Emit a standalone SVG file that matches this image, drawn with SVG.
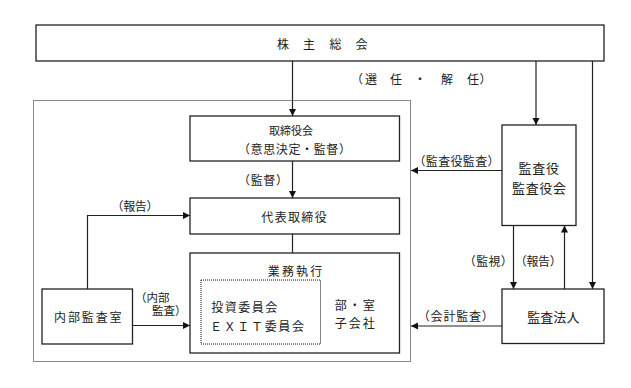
<svg xmlns="http://www.w3.org/2000/svg" width="631" height="388" viewBox="0 0 631 388">
<defs>
<style>
.box{fill:#fff;stroke:#222;stroke-width:1.3}
.dot{fill:none;stroke:#111;stroke-width:1;stroke-dasharray:1 1}
.ln{fill:none;stroke:#222;stroke-width:1.2}
.arr{marker-end:url(#ah)}
text{font-family:"Noto Sans CJK JP","Noto Sans CJK SC",sans-serif;font-size:12px;fill:#222;dominant-baseline:central}
.m{text-anchor:middle}
.b{font-size:13px}
.s{font-size:11.5px}
</style>
<marker id="ah" markerUnits="userSpaceOnUse" markerWidth="8" markerHeight="8" refX="7" refY="3.5" orient="auto"><path d="M0,0 L7,3.5 L0,7 z" fill="#111"/></marker>
</defs>
<rect width="631" height="388" fill="#fff"/>

<g id="company-boundary"><rect class="dot" x="33.5" y="100.5" width="377" height="261"/></g>

<g id="shareholders">
<rect class="box" x="36" y="25" width="568" height="36"/>
<text class="m" y="43"><tspan x="283">株</tspan><tspan x="309">主</tspan><tspan x="335.5">総</tspan><tspan x="361.5">会</tspan></text>
</g>

<g id="board">
<rect class="box" x="190" y="116" width="209.5" height="45"/>
<text class="m" x="291" y="130" style="font-size:11px">取締役会</text>
<text class="m" x="294.5" y="148" textLength="113" lengthAdjust="spacing">（意思決定・監督）</text>
</g>

<g id="representative">
<rect class="box" x="190" y="198" width="209.5" height="36"/>
<text class="m" x="294" y="216.5" textLength="65.3" lengthAdjust="spacing">代表取締役</text>
</g>

<g id="operations">
<rect class="box" x="190" y="253" width="209.5" height="100"/>
<text class="m" x="295" y="270" textLength="54.5" lengthAdjust="spacing">業務執行</text>
<g id="committees">
<rect class="dot" x="201" y="280" width="119.5" height="64"/>
<text class="m" x="244.2" y="306.5" textLength="66" lengthAdjust="spacing">投資委員会</text>
<text x="210" y="325.3" textLength="94" lengthAdjust="spacing">ＥＸＩＴ委員会</text>
</g>
<g id="departments">
<text class="m" x="354.8" y="304.3" textLength="40" lengthAdjust="spacing">部・室</text>
<text class="m" x="354.8" y="322.7" textLength="40" lengthAdjust="spacing">子会社</text>
</g>
</g>

<g id="internal-audit">
<rect class="box" x="42" y="289" width="90.5" height="55"/>
<text class="m" x="87.8" y="316" textLength="67.5" lengthAdjust="spacing">内部監査室</text>
</g>

<g id="auditors">
<rect class="box" x="502" y="125" width="74" height="100.5"/>
<text class="m b" x="538.8" y="167.3" textLength="40.5" lengthAdjust="spacing">監査役</text>
<text class="m b" x="539" y="187.3" textLength="54" lengthAdjust="spacing">監査役会</text>
</g>

<g id="accounting-auditor">
<rect class="box" x="502" y="289" width="102" height="54.5"/>
<text class="m b" x="553.3" y="316.7" textLength="52.3" lengthAdjust="spacing">監査法人</text>
</g>

<g id="connectors">
<line class="ln arr" x1="292.5" y1="61" x2="292.5" y2="116"/>
<line class="ln arr" x1="292.5" y1="161" x2="292.5" y2="198"/>
<line class="ln" x1="292.5" y1="234" x2="292.5" y2="253"/>
<polyline class="ln arr" points="87.5,289 87.5,215.5 190,215.5"/>
<line class="ln arr" x1="132.5" y1="325.5" x2="190" y2="325.5"/>
<line class="ln arr" x1="536" y1="61" x2="536" y2="125"/>
<line class="ln arr" x1="592.5" y1="61" x2="592.5" y2="289"/>
<line class="ln arr" x1="502" y1="170.5" x2="411" y2="170.5"/>
<line class="ln arr" x1="513.5" y1="225.5" x2="513.5" y2="289"/>
<line class="ln arr" x1="564.5" y1="289" x2="564.5" y2="225.5"/>
<line class="ln arr" x1="502" y1="326" x2="411" y2="326"/>
<text y="78"><tspan class="m" x="357">（</tspan><tspan class="m" x="371">選</tspan><tspan class="m" x="396">任</tspan><tspan class="m" x="420">・</tspan><tspan class="m" x="447">解</tspan><tspan class="m" x="473">任</tspan><tspan class="m" x="485.5">）</tspan></text>
<text class="m" x="263" y="179" textLength="50" lengthAdjust="spacing">（監督）</text>
<text class="m" x="135" y="205.5" textLength="47" lengthAdjust="spacing">（報告）</text>
<text class="s" x="135" y="296.5">（内部</text>
<text class="s" x="152" y="310">監査）</text>
<text class="m" x="456.5" y="160" textLength="86" lengthAdjust="spacing">（監査役監査）</text>
<text class="m" x="488.3" y="260" textLength="49" lengthAdjust="spacing">（監視）</text>
<text class="m" x="538.3" y="260" textLength="47" lengthAdjust="spacing">（報告）</text>
<text class="m" x="455.8" y="315" textLength="76" lengthAdjust="spacing">（会計監査）</text>
</g>
</svg>
